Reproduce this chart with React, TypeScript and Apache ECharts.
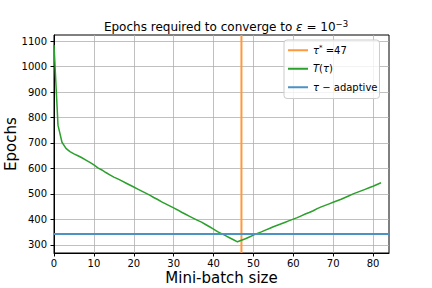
import React, { useEffect, useRef } from "react";
import * as echarts from "echarts";

const batchSizes: number[] = Array.from({ length: 83 }, (_, i) => i);
const epochs: number[] = [
  1085, 770, 703, 679, 666, 657, 650, 642, 633, 624,
  614, 602, 594, 584, 575, 566, 559, 551, 543, 535,
  527, 519, 511, 503, 495, 486, 478, 469, 461, 453,
  445, 437, 428, 420, 412, 404, 396, 389, 380, 371,
  362, 352, 344, 336, 328, 320, 312, 318, 324, 331,
  338, 345, 351, 358, 364, 371, 377, 383, 389, 395,
  401, 407, 414, 421, 427, 434, 442, 449, 455, 461,
  467, 473, 479, 486, 493, 500, 506, 512, 518, 524,
  530, 537, 544,
];
const tauStar = 47;
const adaptiveEpochs = 343;
const xTicks = [0, 10, 20, 30, 40, 50, 60, 70, 80];
const yTicks = [300, 400, 500, 600, 700, 800, 900, 1000, 1100];
const xRange = [0, 84];
const yRange = [268, 1124];

const FONT = "DejaVu Sans";

export default function App() {
  const ref = useRef<HTMLDivElement>(null);
  useEffect(() => {
    if (!ref.current) return;
    const chart = echarts.init(ref.current, null, { renderer: "svg" });
    const curve = batchSizes.map((x, i) => [x, epochs[i]]);
    const legendText: Record<string, string> = {
      tauStar: "{i|τ}{s|*}{a| =" + tauStar + "}",
      T: "{i|T}{a|(}{i|τ}{a|)}",
      adaptive: "{i|τ}{a| − adaptive}",
    };
    chart.setOption({
      animation: false,
      title: {
        text: "{a|Epochs required to converge to }{i|ε}{a| = 10}{s|−3}",
        left: 221,
        textAlign: "center",
        top: 14,
        textStyle: {
          fontWeight: "normal",
          rich: {
            a: { fontFamily: FONT, fontSize: 12, fontWeight: "normal", color: "#000", lineHeight: 16 },
            i: { fontFamily: FONT, fontSize: 12, fontWeight: "normal", fontStyle: "italic", color: "#000", lineHeight: 16 },
            s: { fontFamily: FONT, fontSize: 8.5, fontWeight: "normal", color: "#000", verticalAlign: "top", lineHeight: 10 },
          },
        },
      },
      legend: {
        data: ["tauStar", "T", "adaptive"],
        orient: "vertical",
        left: 284,
        top: 40,
        padding: [4, 2, 5, 4],
        itemGap: 6,
        itemWidth: 20,
        itemHeight: 2,
        icon: "rect",
        backgroundColor: "rgba(255,255,255,0.8)",
        borderColor: "#cccccc",
        borderWidth: 1,
        borderRadius: 3,
        formatter: (name: string) => legendText[name],
        textStyle: {
          fontFamily: FONT,
          fontSize: 10,
          color: "#000",
          lineHeight: 12.5,
          rich: {
            a: { fontFamily: FONT, fontSize: 10, color: "#000", lineHeight: 12.5 },
            i: { fontFamily: FONT, fontSize: 10, fontStyle: "italic", color: "#000", lineHeight: 12.5 },
            s: { fontFamily: FONT, fontSize: 7, color: "#000", verticalAlign: "top", lineHeight: 9 },
          },
        },
      },
      grid: {
        left: 54,
        right: 43,
        top: 35,
        bottom: 35,
        containLabel: false,
        outerBoundsMode: "none",
        show: true,
        borderColor: "#000",
        borderWidth: 1,
        backgroundColor: "transparent",
      },
      xAxis: {
        type: "value",
        min: xRange[0],
        max: xRange[1],
        name: "Mini-batch size",
        nameLocation: "middle",
        nameGap: 17,
        nameMoveOverlap: false,
        nameTextStyle: { fontFamily: FONT, fontSize: 15, color: "#000" },
        axisLine: { show: true, onZero: false, lineStyle: { color: "#000", width: 1 } },
        axisTick: { show: true, length: 3.5, customValues: xTicks, lineStyle: { color: "#000" } },
        axisLabel: { customValues: xTicks, margin: 5, fontFamily: FONT, fontSize: 10, color: "#000", formatter: (v: number) => String(v) },
        splitLine: { show: true, lineStyle: { color: "#b0b0b0", width: 0.8 } },
      },
      yAxis: {
        type: "value",
        min: yRange[0],
        max: yRange[1],
        name: "Epochs",
        nameLocation: "middle",
        nameGap: 36,
        nameMoveOverlap: false,
        nameTextStyle: { fontFamily: FONT, fontSize: 15, color: "#000" },
        axisLine: { show: true, onZero: false, lineStyle: { color: "#000", width: 1 } },
        axisTick: { show: true, length: 3.5, customValues: yTicks, lineStyle: { color: "#000" } },
        axisLabel: { customValues: yTicks, margin: 7, fontFamily: FONT, fontSize: 10, color: "#000", formatter: (v: number) => String(v) },
        splitLine: { show: true, lineStyle: { color: "#b0b0b0", width: 0.8 } },
      },
      series: [
        {
          name: "tauStar",
          type: "line",
          data: [
            [tauStar, yRange[0]],
            [tauStar, yRange[1]],
          ],
          symbol: "none",
          color: "#ff993e",
          lineStyle: { color: "#ff993e", width: 2 },
          z: 2,
        },
        {
          name: "T",
          type: "line",
          data: curve,
          symbol: "none",
          color: "#2ca02c",
          lineStyle: { color: "#2ca02c", width: 1.5 },
          z: 3,
        },
        {
          name: "adaptive",
          type: "line",
          data: [
            [xRange[0], adaptiveEpochs],
            [xRange[1], adaptiveEpochs],
          ],
          symbol: "none",
          color: "#4c92c3",
          lineStyle: { color: "#4c92c3", width: 2 },
          z: 4,
        },
      ],
    });
    return () => chart.dispose();
  }, []);
  return <div ref={ref} style={{ width: 432, height: 288, position: "absolute", left: 0, top: 0 }} />;
}
